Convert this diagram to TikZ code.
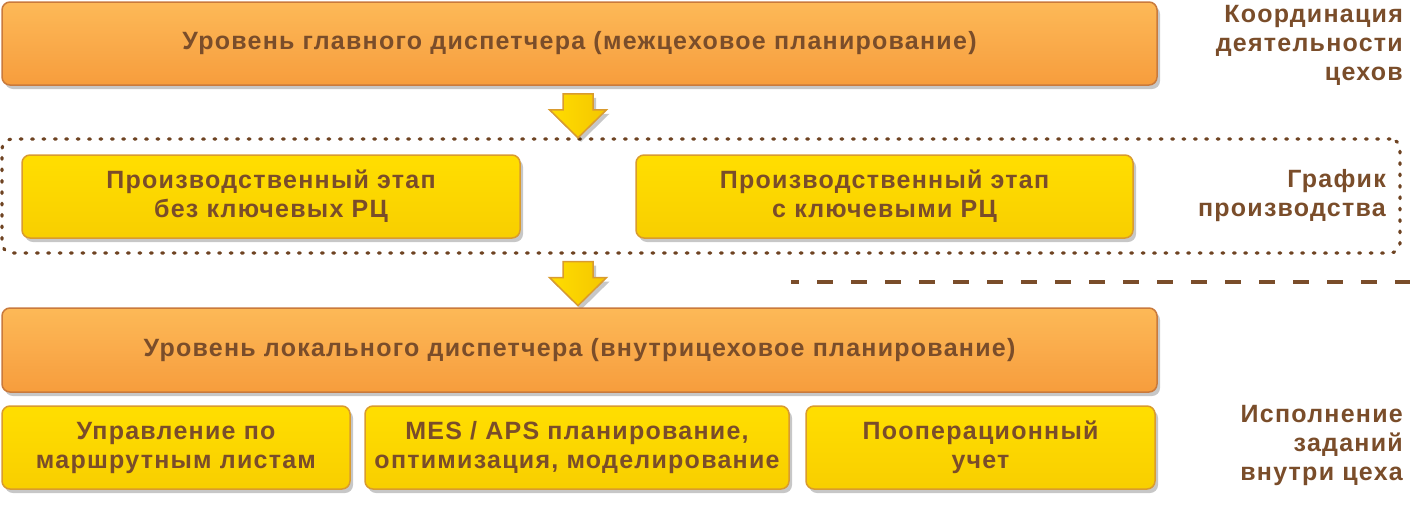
\documentclass[tikz,border=0pt]{standalone}
\usepackage{fontspec}
\setmainfont{Liberation Sans}[LetterSpace=5]
\usetikzlibrary{shadows,calc}

\definecolor{txtbrown}{HTML}{7A4D2A}
\definecolor{dotbrown}{HTML}{6E4322}
\definecolor{orTop}{HTML}{F69C3B}
\definecolor{orHi}{HTML}{FDB957}
\definecolor{orMid}{HTML}{F9A848}
\definecolor{orBot}{HTML}{F48F2E}
\definecolor{orEdge}{HTML}{C97A3C}
\definecolor{ylTop}{HTML}{FFDD00}
\definecolor{ylBot}{HTML}{F4C600}
\definecolor{ylEdge}{HTML}{D99B2F}

\pgfdeclareverticalshading{orangebar}{100bp}{color(0bp)=(orBot); color(45bp)=(orMid); color(75bp)=(orHi); color(100bp)=(orTop)}
\pgfdeclareverticalshading{yellowbar}{100bp}{color(0bp)=(ylBot); color(70bp)=(ylTop); color(100bp)=(ylTop)}

\newcommand{\arrowdown}[1]{%
  \draw[arrowblk, shift={(#1)}] (-15,0) -- (15,0) -- (15,16) -- (28.5,16)
    -- (0,44) -- (-28.5,16) -- (-15,16) -- cycle;}

\begin{document}
\begin{tikzpicture}[x=1pt,y=-1pt,
    font=\fontsize{25}{29}\selectfont\bfseries,
    every node/.style={text=txtbrown, align=center, inner sep=0pt},
    shade/.style={drop shadow={shadow xshift=3pt, shadow yshift=-4pt, opacity=.22, fill=black}},
    orangebox/.style={shade, draw=orEdge, line width=1.5pt, rounded corners=8pt,
      shading=orangebar, minimum height=83pt},
    yellowbox/.style={shade, draw=ylEdge, line width=1.5pt, rounded corners=8pt,
      shading=yellowbar, minimum height=83pt},
    sidelbl/.style={align=right, anchor=east},
    dotframe/.style={draw=dotbrown, line width=3.2pt, line cap=round,
      dash pattern=on 1.8pt off 9.6pt, rounded corners=10pt},
    arrowblk/.style={shade, draw=ylEdge, line width=1.5pt, left color=ylTop, right color=ylBot},
    dashline/.style={draw=txtbrown, line width=4pt, dash pattern=on 16pt off 18pt, dash phase=8pt}]
  \useasboundingbox (0,0) rectangle (1410,504);

  % main dispatcher level
  \node[orangebox, minimum width=1155pt] (top) at (579.5,43.5)
    {Уровень главного диспетчера (межцеховое планирование)};
  \node[sidelbl] (lblcoord) at (1403,45) {Координация\\деятельности\\цехов};

  % production schedule
  \node[dotframe, minimum width=1398pt, minimum height=114pt] (grp) at (701,196) {};
  \node[yellowbox, minimum width=498pt] (stA) at (271,196.5)
    {Производственный этап\\без ключевых РЦ};
  \node[yellowbox, minimum width=497pt] (stB) at (884.5,196.5)
    {Производственный этап\\с ключевыми РЦ};
  \node[sidelbl] (lblgraph) at (1386,196) {График\\производства};

  \coordinate (a1) at ($(top.south)+(-1.5,8)$);
  \arrowdown{a1}
  \coordinate (a2) at ($(grp.south)+(-123,7)$);
  \arrowdown{a2}

  \draw[dashline] (791,282) -- (1410,282);

  % local dispatcher level
  \node[orangebox, minimum width=1155pt, minimum height=84pt] (loc) at (579.5,350)
    {Уровень локального диспетчера (внутрицеховое планирование)};

  \node[yellowbox, minimum width=348pt] (route) at (176,447.5)
    {Управление по\\маршрутным листам};
  \node[yellowbox, minimum width=424pt] (mes) at (577,447.5)
    {MES / APS планирование,\\оптимизация, моделирование};
  \node[yellowbox, minimum width=349pt] (oper) at (980.5,447.5)
    {Пооперационный\\учет};
  \node[sidelbl] (lblexec) at (1403,445) {Исполнение\\заданий\\внутри цеха};
\end{tikzpicture}
\end{document}
